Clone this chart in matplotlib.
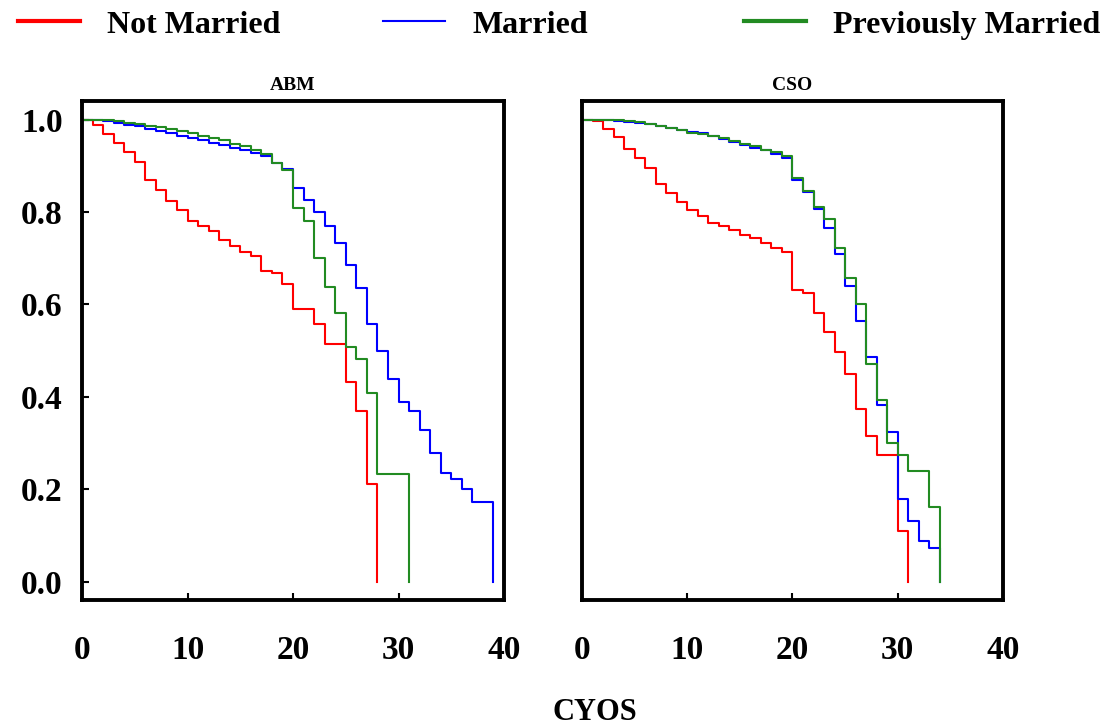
import matplotlib.pyplot as plt
from matplotlib.lines import Line2D

plt.rcParams['font.family'] = ['Liberation Serif', 'DejaVu Serif']
plt.rcParams['font.weight'] = 'bold'

# survival curves (one value per year, step drawn after)
abm_not_t = list(range(29))
abm_not_s = [1.0, 0.989, 0.969, 0.950, 0.929, 0.908, 0.870, 0.848, 0.823, 0.805,
             0.781, 0.769, 0.758, 0.740, 0.727, 0.713, 0.704, 0.673, 0.667, 0.645,
             0.590, 0.590, 0.558, 0.514, 0.514, 0.431, 0.370, 0.212, 0.0]

abm_mar_t = list(range(40))
abm_mar_s = [1.0, 0.999, 0.996, 0.993, 0.989, 0.985, 0.979, 0.975, 0.970, 0.965,
             0.961, 0.955, 0.950, 0.945, 0.939, 0.934, 0.927, 0.920, 0.906, 0.892,
             0.851, 0.825, 0.799, 0.769, 0.732, 0.685, 0.636, 0.557, 0.498, 0.439,
             0.388, 0.370, 0.329, 0.279, 0.234, 0.221, 0.201, 0.172, 0.172, 0.0]

abm_prev_t = list(range(32))
abm_prev_s = [1.0, 1.0, 0.998, 0.996, 0.993, 0.990, 0.986, 0.983, 0.979, 0.975,
              0.970, 0.965, 0.960, 0.955, 0.948, 0.942, 0.935, 0.925, 0.905, 0.890,
              0.809, 0.780, 0.700, 0.638, 0.582, 0.507, 0.481, 0.407, 0.233, 0.233,
              0.233, 0.0]

cso_not_t = list(range(32))
cso_not_s = [1.0, 0.996, 0.980, 0.962, 0.937, 0.917, 0.895, 0.861, 0.840, 0.821,
             0.805, 0.791, 0.775, 0.769, 0.760, 0.751, 0.744, 0.732, 0.722, 0.713,
             0.632, 0.625, 0.582, 0.540, 0.496, 0.450, 0.374, 0.315, 0.273, 0.273,
             0.109, 0.0]

cso_mar_t = list(range(35))
cso_mar_s = [1.0, 1.0, 0.999, 0.997, 0.995, 0.993, 0.990, 0.986, 0.981, 0.977,
             0.973, 0.971, 0.965, 0.958, 0.952, 0.945, 0.939, 0.933, 0.925, 0.917,
             0.869, 0.843, 0.807, 0.766, 0.710, 0.639, 0.563, 0.486, 0.383, 0.323,
             0.178, 0.132, 0.087, 0.073, 0.0]

cso_prev_t = list(range(35))
cso_prev_s = [1.0, 1.0, 0.999, 0.998, 0.996, 0.994, 0.991, 0.987, 0.982, 0.978,
              0.971, 0.968, 0.964, 0.959, 0.953, 0.947, 0.942, 0.935, 0.929, 0.922,
              0.874, 0.845, 0.811, 0.785, 0.722, 0.657, 0.600, 0.470, 0.392, 0.299,
              0.273, 0.239, 0.239, 0.161, 0.0]

labels = ['Not Married', 'Married', 'Previously Married']
colors = ['#ff0000', '#0000ff', '#228b22']
panels = ['ABM', 'CSO']
x_ticks = [0, 10, 20, 30, 40]
y_ticks = [0.0, 0.2, 0.4, 0.6, 0.8, 1.0]

curves = {
    'ABM': [(abm_not_t, abm_not_s), (abm_mar_t, abm_mar_s), (abm_prev_t, abm_prev_s)],
    'CSO': [(cso_not_t, cso_not_s), (cso_mar_t, cso_mar_s), (cso_prev_t, cso_prev_s)],
}

fig = plt.figure(figsize=(11.01, 7.28), dpi=100)
ax_left = fig.add_axes([0.0745, 0.1758, 0.3833, 0.6854])
ax_right = fig.add_axes([0.5286, 0.1758, 0.3824, 0.6854])

for ax, name in zip([ax_left, ax_right], panels):
    for (t, s), c in zip(curves[name], colors):
        ax.step(t, s, where='post', color=c, lw=1.5)
    ax.set_xlim(0, 40)
    ax.set_ylim(-0.04, 1.04)
    ax.set_xticks(x_ticks)
    ax.set_xticklabels([str(v) for v in x_ticks], fontsize=24, fontweight='bold')
    ax.tick_params(axis='x', direction='in', length=5, width=1.5, pad=25)
    for sp in ax.spines.values():
        sp.set_linewidth(2.8)
    ax.set_title(name, fontsize=14, fontweight='bold', pad=8)

ax_left.set_yticks(y_ticks)
ax_left.set_yticklabels(['%.1f' % v for v in y_ticks], fontsize=24, fontweight='bold')
ax_left.tick_params(axis='y', direction='in', length=5, width=1.5, pad=14)
ax_right.set_yticks([])

fig.text(0.54, 1 - 712 / 728, 'CYOS', fontsize=22, fontweight='bold',
         ha='center', va='center')

# legend entries sit at uneven spacing in the original, so one legend per entry
handle_lw = [3, 1.5, 3]
legend_x = [18, 383, 744]
for lab, c, lw, x0 in zip(labels, colors, handle_lw, legend_x):
    h = Line2D([], [], color=c, lw=lw)
    fig.legend([h], [lab], loc='center left', bbox_to_anchor=(x0 / 1101, 1 - 25 / 728),
               frameon=False, prop={'size': 23, 'weight': 'bold'},
               handlelength=1.95, handletextpad=0.85, borderaxespad=0, borderpad=0)

fig.savefig('out.png', dpi=100)
